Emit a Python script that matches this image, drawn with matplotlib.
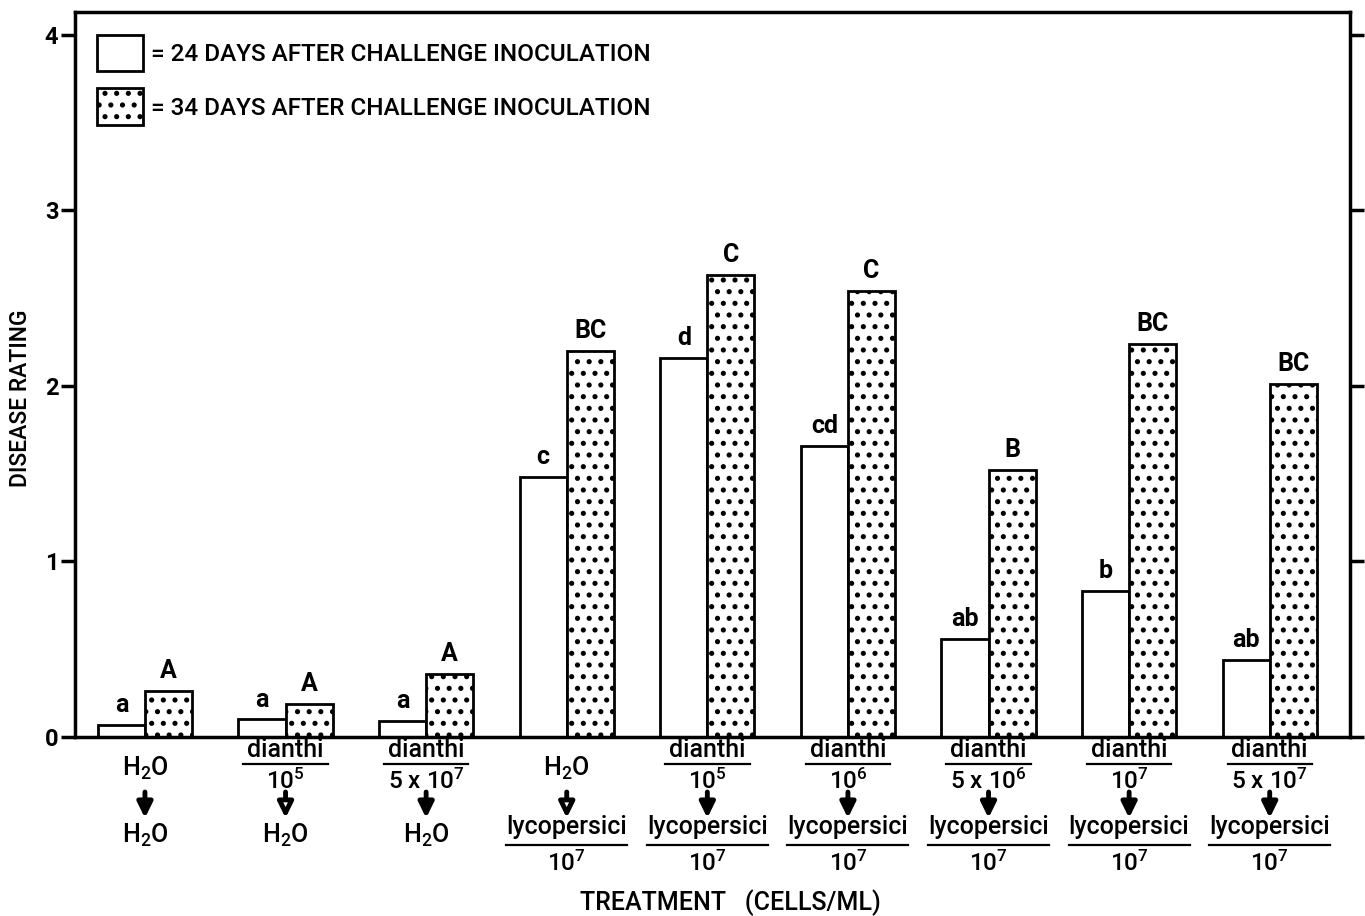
import numpy as np
import matplotlib
matplotlib.use("Agg")
import matplotlib.pyplot as plt
from matplotlib.patches import Patch

# higher dpi so the dot hatch gets the spacing of the original screen
DPI = 140
S = 100 / DPI  # sizes below are written as if at 100 dpi

plt.rcParams["font.family"] = ["Roboto", "Liberation Sans", "DejaVu Sans"]
plt.rcParams["font.weight"] = "medium"
plt.rcParams["mathtext.default"] = "regular"
plt.rcParams["hatch.linewidth"] = 2.0 * S

# data
day24 = [0.07, 0.10, 0.09, 1.48, 2.16, 1.66, 0.56, 0.83, 0.44]
day34 = [0.26, 0.19, 0.36, 2.20, 2.63, 2.54, 1.52, 2.24, 2.01]
letters24 = ["a", "a", "a", "c", "d", "cd", "ab", "b", "ab"]
letters34 = ["A", "A", "A", "BC", "C", "C", "B", "BC", "BC"]
first_agent = ["H$_2$O", "dianthi", "dianthi", "H$_2$O", "dianthi",
               "dianthi", "dianthi", "dianthi", "dianthi"]
first_dose = [None, "10$^5$", "5 x 10$^7$", None, "10$^5$", "10$^6$",
              "5 x 10$^6$", "10$^7$", "5 x 10$^7$"]
second_agent = ["H$_2$O"] * 3 + ["lycopersici"] * 6
second_dose = [None] * 3 + ["10$^7$"] * 6
hollow_arrow = [False, True, False, True, False, False, False, False, False]
yticks = [0, 1, 2, 3, 4]

fig = plt.figure(figsize=(1365 / DPI, 916 / DPI), dpi=DPI)
ax = fig.add_axes([0.0549, 0.1954, 0.934, 0.7916])

x = np.arange(len(day24))
w = 0.335
ax.bar(x - w / 2, day24, w, color="white", edgecolor="black", linewidth=2 * S)
ax.bar(x + w / 2, day34, w, color="white", edgecolor="black", linewidth=2 * S,
       hatch="..")

for xi, v, s in zip(x, day24, letters24):
    ax.text(xi - w / 2, v + 0.045, s, ha="center", va="bottom",
            fontsize=18 * S, fontweight="bold")
for xi, v, s in zip(x, day34, letters34):
    ax.text(xi + w / 2, v + 0.045, s, ha="center", va="bottom",
            fontsize=18 * S, fontweight="bold")

ax.set_xlim(-0.498, 8.57)
ax.set_ylim(0, 4.13)
ax.set_xticks([])
ax.set_yticks(yticks)
ax.set_yticklabels([str(t) for t in yticks], fontsize=17 * S, fontweight="bold")
ax.tick_params(axis="y", direction="out", length=10 * S, width=2.5 * S,
               right=True, labelright=False, pad=2 * S)
for sp in ax.spines.values():
    sp.set_linewidth(2.5 * S)

# treatment labels under the axis
tr = ax.get_xaxis_transform()
ph = 725.0  # axes height in px


def fy(p):
    return (737 - p) / ph


fs = 18 * S
fs_dose = 17.5 * S
for xi, a1, d1, a2, d2, hol in zip(x, first_agent, first_dose,
                                  second_agent, second_dose, hollow_arrow):
    if d1 is None:
        ax.text(xi, fy(776), a1, transform=tr, ha="center", va="baseline",
                fontsize=fs)
    else:
        ax.text(xi, fy(757), a1, transform=tr, ha="center", va="baseline",
                fontsize=fs)
        ax.plot([xi - 0.3, xi + 0.3], [fy(764), fy(764)], transform=tr,
                color="black", lw=1.6 * S, clip_on=False)
        ax.text(xi, fy(789), d1, transform=tr, ha="center", va="baseline",
                fontsize=fs_dose)
    ax.annotate("", xy=(xi, fy(818)), xytext=(xi, fy(792)),
                xycoords=tr, textcoords=tr,
                arrowprops=dict(arrowstyle="-|>,head_length=0.65,head_width=0.32",
                                lw=3.5 * S, color="black", mutation_scale=14 * S,
                                shrinkA=0, shrinkB=0,
                                fc="white" if hol else "black"))
    if d2 is None:
        ax.text(xi, fy(843), a2, transform=tr, ha="center", va="baseline",
                fontsize=fs)
    else:
        ax.text(xi, fy(834), a2, transform=tr, ha="center", va="baseline",
                fontsize=fs)
        ax.plot([xi - 0.43, xi + 0.43], [fy(845), fy(845)], transform=tr,
                color="black", lw=1.6 * S, clip_on=False)
        ax.text(xi, fy(871), d2, transform=tr, ha="center", va="baseline",
                fontsize=fs_dose)

fig.text(0.015, 1 - 398 / 916, "DISEASE RATING", rotation=90, ha="center",
         va="center", fontsize=16.5 * S)
fig.text(730 / 1365, 1 - 903 / 916, "TREATMENT   (CELLS/ML)", ha="center",
         va="center", fontsize=18 * S)

handles = [Patch(facecolor="white", edgecolor="black", linewidth=2 * S),
           Patch(facecolor="white", edgecolor="black", linewidth=2 * S,
                 hatch="..")]
ax.legend(handles, ["= 24 DAYS AFTER CHALLENGE INOCULATION",
                    "= 34 DAYS AFTER CHALLENGE INOCULATION"],
          loc="upper left", bbox_to_anchor=(0.004, 0.992), frameon=False,
          fontsize=17.5 * S, handlelength=1.9, handleheight=1.95,
          labelspacing=0.7, handletextpad=0.3, borderaxespad=0.3)

fig.savefig("out.png", dpi=DPI)
